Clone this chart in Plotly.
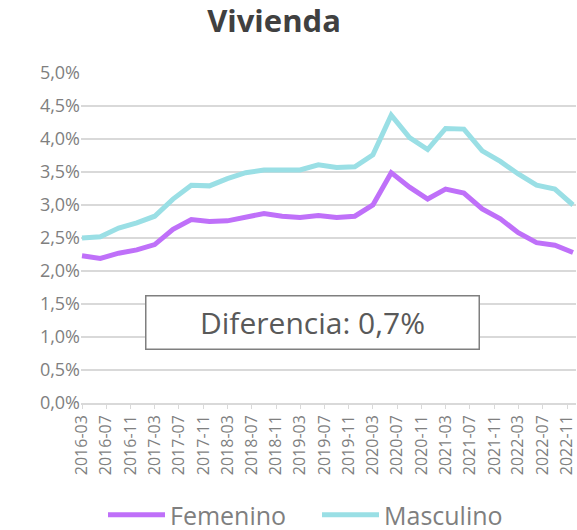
import plotly.graph_objects as go

dates = [f"{y}-{m:02d}-01" for y in range(2016, 2023) for m in (3, 6, 9, 12)]

femenino = [2.23, 2.19, 2.27, 2.32, 2.40, 2.63, 2.78, 2.75, 2.76, 2.82, 2.87, 2.83, 2.81, 2.84,
            2.81, 2.83, 3.00, 3.49, 3.27, 3.09, 3.24, 3.18, 2.94, 2.79, 2.58, 2.43, 2.39, 2.28]
masculino = [2.50, 2.52, 2.65, 2.73, 2.83, 3.09, 3.30, 3.29, 3.40, 3.49, 3.53, 3.53, 3.53, 3.61,
             3.57, 3.58, 3.76, 4.36, 4.02, 3.84, 4.16, 4.15, 3.82, 3.66, 3.47, 3.30, 3.24, 3.00]

title_text = "Vivienda"
box_text = "Diferencia: 0,7%"

FONT = "Open Sans"
GRAY = "#7f7f7f"
DARK = "#404040"

fig = go.Figure()
fig.add_trace(go.Scatter(x=dates, y=femenino, mode="lines", name="Femenino",
                         line=dict(color="#bf70f9", width=5)))
fig.add_trace(go.Scatter(x=dates, y=masculino, mode="lines", name="Masculino",
                         line=dict(color="#9adfe5", width=5)))

fig.update_layout(
    width=577, height=530,
    margin=dict(l=81, r=1, t=73, b=127),
    paper_bgcolor="white", plot_bgcolor="white",
    separators=",.",
    font=dict(family=FONT, color=GRAY),
    title=dict(text=f"<b>{title_text}</b>", x=274/577, xref="container", xanchor="center",
               y=1-21/530, yref="container", yanchor="middle",
               font=dict(family=FONT, size=31, color=DARK)),
    showlegend=True,
    legend=dict(orientation="h", xref="container", yref="container",
                x=103/577, xanchor="left", y=15/530, yanchor="middle",
                font=dict(size=25, color=GRAY), itemwidth=57, traceorder="normal",
                entrywidth=142, entrywidthmode="pixels"),
    xaxis=dict(type="date", range=["2016-02-25", "2022-12-16"], automargin=False,
               tick0="2016-03-01", dtick="M4", tickformat="%Y-%m", tickangle=-90,
               ticklabeloverflow="allow",
               showgrid=False, showline=True, linecolor="#d9d9d9", linewidth=1.5,
               ticks="outside", ticklen=4, tickcolor="#d9d9d9",
               tickfont=dict(size=16, color=GRAY)),
    yaxis=dict(range=[0, 5], dtick=0.5, tickformat=".1f", ticksuffix="%", automargin=False,
               showgrid=True, gridcolor="#d9d9d9", gridwidth=1.5, zeroline=False,
               showline=False, tickfont=dict(size=18, color=GRAY), ticks=""),
    annotations=[dict(text=box_text, xref="paper", yref="paper",
                      x=(312.5-81)/495, y=(403-322.5)/330,
                      xanchor="center", yanchor="middle", showarrow=False,
                      width=330, height=50, borderpad=1,
                      bordercolor=GRAY, borderwidth=1.5, bgcolor="white",
                      font=dict(family=FONT, size=30, color="#595959"))],
)

fig.write_html("out.html", config={"displayModeBar": False},
               post_script="document.body.style.margin='0';document.body.style.overflow='hidden';")
